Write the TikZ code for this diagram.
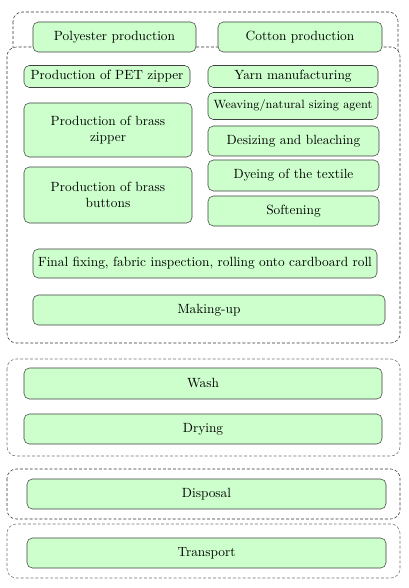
\documentclass[tikz,border=0pt]{standalone}
\usepackage{tikz}
\usetikzlibrary{positioning}
\definecolor{boxgreen}{HTML}{CCFFCC}
\tikzset{
  stage/.style={draw=black!75,fill=boxgreen,rounded corners=4pt,align=center,inner sep=1pt},
  boxsize/.style 2 args={minimum width=#1*0.75pt,minimum height=#2*0.75pt},
  group/.style={draw=black!80,dashed,dash pattern=on 2.2pt off 1.5pt,rounded corners=7pt,fill=white},
  lightgroup/.style={group,draw=black!55},
  every node/.style={font=\normalsize}
}
\begin{document}
\begin{tikzpicture}[x=0.75pt,y=-0.75pt]
\useasboundingbox (0,0) rectangle (408,588);
% dashed groups
\draw[group] (13,12) rectangle (398,70);
\draw[group] (7,47) rectangle (400,343);
\draw[lightgroup] (7,359) rectangle (400,456);
\draw[group] (7,469) rectangle (400,519);
\draw[lightgroup] (7,524) rectangle (400,578);
% raw materials
\node[stage,boxsize={163}{30}] (poly) at (114.5,37) {Polyester production};
\node[stage,boxsize={164}{30}] (cotton) at (300,37) {Cotton production};
% accessories
\node[stage,boxsize={166}{22}] (pet) at (107,76.5) {Production of PET zipper};
\node[stage,boxsize={168}{54},text width=150*0.75pt] (brasszip) at (108,130) {Production of brass\\zipper\\[2pt]};
\node[stage,boxsize={168}{56},text width=150*0.75pt] (brassbtn) at (108,195) {Production of brass\\buttons\\[2pt]};
% textile chain
\node[stage,boxsize={170}{22}] (yarn) at (293,76.5) {Yarn manufacturing};
\node[stage,boxsize={170}{27},font=\small] (weave) at (293,106) {Weaving/natural sizing agent};
\node[stage,boxsize={171}{30}] (desize) at (293.5,141) {Desizing and bleaching};
\node[stage,boxsize={171}{31}] (dye) at (293.5,175.5) {Dyeing of the textile};
\node[stage,boxsize={171}{30}] (soft) at (293.5,211) {Softening};
\node[stage,boxsize={344}{29}] (final) at (205,263.5) {Final fixing, fabric inspection, rolling onto cardboard roll};
\node[stage,boxsize={352}{30}] (makeup) at (209,310) {Making-up};
% use phase
\node[stage,boxsize={358}{31}] (wash) at (203,383.5) {Wash};
\node[stage,boxsize={358}{30}] (dry) at (203,429) {Drying};
% end of life
\node[stage,boxsize={359}{30}] (disposal) at (206.5,494) {Disposal};
\node[stage,boxsize={359}{30}] (transport) at (206.5,553) {Transport};
\end{tikzpicture}
\end{document}
